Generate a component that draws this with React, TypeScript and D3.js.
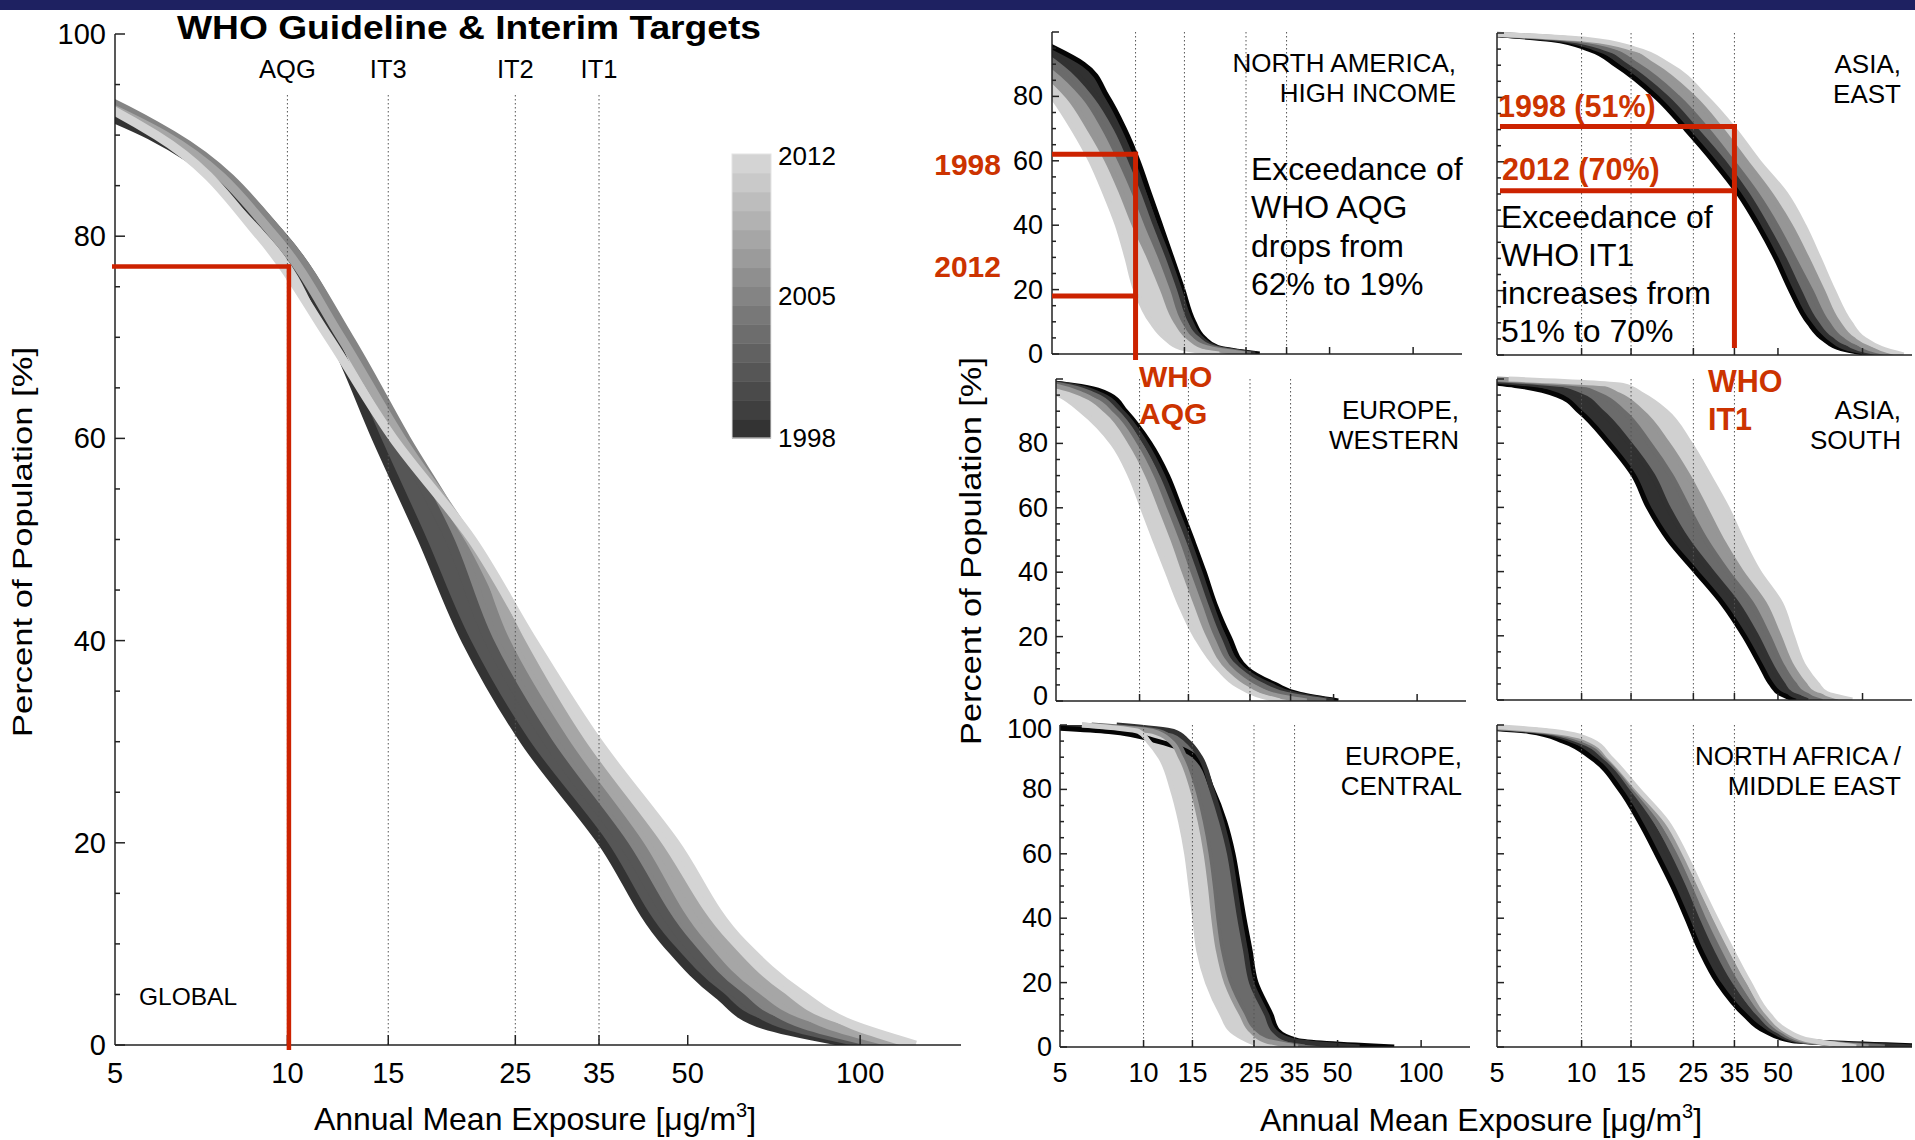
import * as d3 from 'd3'

const W = 1915
const H = 1140
const FONT = '"Liberation Sans", Arial, Helvetica, sans-serif'
const RED = '#cc2200'
const RED_TEXT = '#cc3300'

// exceedance levels (% of population) at which the curves below are read
const LEVELS = [100, 98, 95, 90, 80, 70, 60, 50, 40, 30, 20, 10, 5, 2, 0]
const CURVE_YEARS = [1998, 2001, 2005, 2008, 2012]
const BAR_YEARS = [1998, 1999, 2000, 2001, 2002, 2003, 2004, 2005, 2006, 2007, 2008, 2009, 2010, 2011, 2012]
const BAR_LABELS = [2012, 2005, 1998]
const X_TICKS = [5, 10, 15, 25, 35, 50, 100]
const WHO_VALUES = [10, 15, 25, 35]
const WHO_NAMES = ['AQG', 'IT3', 'IT2', 'IT1']

// exposure (ug/m3) where each year's curve crosses LEVELS, rows follow CURVE_YEARS
const globalCurves = [
  [2, 2.8, 3.6, 5.75, 9.5, 12.0, 14.3, 17.2, 20.5, 26, 35.5, 46, 56.5, 68, 100],
  [2, 3.0, 4.1, 6.2, 9.8, 12.7, 15.6, 19.2, 22.5, 28.5, 38.5, 50, 61, 74, 105],
  [2, 3.0, 4.2, 6.3, 9.8, 12.8, 16.1, 20.5, 24, 30.5, 41, 53, 65, 80, 110],
  [2, 3.0, 4.0, 6.1, 9.5, 12.4, 15.8, 20.8, 25.5, 32.5, 44, 58, 72, 88, 118],
  [2, 2.9, 4.0, 5.9, 8.95, 11.8, 15.3, 21, 26.8, 34.8, 47.5, 62.5, 79, 97, 125],
]
const northAmericaCurves = [
  [3.5, 4.3, 5.1, 6.5, 7.9, 9.1, 10.2, 11.2, 12.3, 13.5, 14.8, 16.2, 17.6, 19.8, 28],
  [3.0, 3.8, 4.6, 5.6, 7.2, 8.5, 9.6, 10.7, 11.8, 13.1, 14.4, 15.8, 17.2, 19.5, 27],
  [2.6, 3.3, 4.0, 4.9, 6.5, 7.7, 8.8, 9.9, 11.0, 12.3, 13.6, 15.0, 16.6, 19.0, 26],
  [2.4, 3.0, 3.6, 4.3, 5.7, 6.8, 7.9, 8.9, 9.9, 11.2, 12.5, 14.0, 15.6, 18.0, 25],
  [2.2, 2.7, 3.3, 4.0, 5.0, 5.95, 6.9, 7.75, 8.6, 9.3, 10.0, 11.4, 12.8, 14.5, 20],
]
const eastAsiaCurves = [
  [4, 7.8, 10.6, 13.3, 18.5, 23.6, 29.6, 36.3, 42.7, 49.2, 55.6, 64.4, 72.7, 84, 110],
  [4, 8.3, 11.4, 14.3, 20.0, 25.5, 32, 38.8, 45.5, 52.5, 59.5, 68.5, 77, 89, 115],
  [4, 8.9, 12.4, 15.8, 22, 28, 34.5, 42, 49.5, 57, 65.5, 75, 84, 97, 122],
  [4, 9.7, 14, 18, 25, 31.5, 38.5, 47, 55.5, 63.5, 72, 82, 92, 106, 130],
  [4, 10.5, 15.5, 20.5, 27.7, 35, 42.7, 53.3, 62, 70, 78.7, 90.3, 101, 117, 140],
]
const westEuropeCurves = [
  [3.5, 5.8, 7.8, 8.9, 10.9, 12.6, 14.0, 15.5, 17.1, 18.7, 21.0, 24.4, 31, 38, 52],
  [3.5, 5.6, 7.3, 8.6, 10.5, 12.1, 13.5, 15.0, 16.5, 18.1, 20.1, 23.5, 29.5, 36.5, 50],
  [3.5, 5.3, 6.9, 8.2, 10.0, 11.5, 12.8, 14.2, 15.6, 17.2, 19.0, 22.5, 27.5, 34, 47],
  [3.5, 4.9, 6.3, 7.6, 9.3, 10.7, 11.9, 13.2, 14.5, 16.0, 17.8, 21.0, 25.0, 30, 40],
  [3.5, 4.3, 5.15, 6.2, 8.0, 9.25, 10.25, 11.35, 12.6, 14.0, 15.95, 19.3, 22.4, 26.4, 32],
]
const southAsiaCurves = [
  [3.5, 5.8, 8.2, 9.8, 12.5, 15.3, 17.3, 20.4, 25.5, 31.8, 37.9, 43.9, 47.3, 51, 58],
  [4, 7.2, 9.8, 11.7, 14.8, 17.9, 20.3, 23.7, 29.0, 35.8, 41.9, 47.9, 52.0, 55.5, 64],
  [4.5, 9.0, 11.6, 14.0, 17.4, 20.8, 23.9, 27.6, 33.0, 40.3, 46.2, 52.3, 57.1, 61.5, 72],
  [5, 10.9, 13.6, 16.3, 20.2, 23.9, 27.5, 31.5, 37.0, 44.8, 50.4, 56.5, 62.0, 67, 82],
  [5.5, 14, 16.5, 19.9, 24.3, 28.4, 32.9, 37.2, 42.7, 51.2, 56.2, 62.4, 68.9, 74.5, 92],
]
const centralEuropeCurves = [
  [3, 7.5, 11.2, 15.4, 17.7, 19.6, 21.0, 22.0, 23.0, 24.2, 25.4, 28.8, 30.5, 36, 80],
  [8, 12.8, 14.4, 16.0, 17.6, 19.1, 20.4, 21.3, 22.2, 23.3, 24.5, 27.8, 29.6, 34.5, 60],
  [6.5, 11.3, 13.0, 14.1, 15.5, 16.5, 17.3, 17.9, 18.4, 19.1, 20.5, 23.3, 25.2, 28.5, 38],
  [6, 10.8, 12.5, 13.6, 15.0, 16.0, 16.8, 17.4, 17.9, 18.6, 19.9, 22.6, 24.5, 27.5, 36],
  [6, 9.6, 10.4, 11.5, 12.7, 13.6, 14.3, 14.8, 15.3, 15.8, 17.0, 19.2, 20.8, 23.8, 27],
]
const middleEastCurves = [
  [3, 6.5, 8.6, 10.8, 13.7, 16.1, 18.5, 21.1, 23.7, 26.5, 30.6, 38.1, 45, 56, 220],
  [3, 7.0, 9.4, 11.8, 14.8, 17.6, 20.3, 23.0, 25.7, 29.0, 33.5, 41.0, 48.0, 58.5, 150],
  [3.5, 7.3, 9.9, 12.1, 15.2, 18.4, 21.4, 24.2, 27.1, 30.8, 35.5, 43.0, 50.0, 60.5, 120],
  [3.5, 7.6, 10.4, 12.4, 15.6, 19.3, 22.5, 25.4, 28.6, 32.6, 37.6, 44.8, 52.0, 63, 105],
  [4, 8.0, 10.9, 12.6, 15.9, 20.1, 23.3, 26.4, 30.0, 34.3, 39.5, 46.5, 53.8, 65.6, 95],
]

const GLOBAL_AQG_2012 = 77
const NA_MARKS = [62, 18]
const EA_MARKS = [71, 51]

type Box = {x0: number; x1: number; y0: number; y1: number}

const globalGray = (yr: number) => d3.interpolateRgb('#333333', '#d4d4d4')((yr - 1998) / 14)
const regionGray = (yr: number) => d3.interpolateRgb('#050505', '#d0d0d0')((yr - 1998) / 14)

function makeScales(b: Box) {
  return {
    x: d3.scaleLog().domain([5, 150]).range([b.x0, b.x1]),
    y: d3.scaleLinear().domain([0, 100]).range([b.y0, b.y1]),
  }
}

function Bands({id, box, curves, gray, width}: {id: string; box: Box; curves: number[][]; gray: (y: number) => string; width: number}) {
  const {x, y} = makeScales(box)
  const line = d3.line<number>().x(d => x(d)).y((_, i) => y(LEVELS[i])).curve(d3.curveMonotoneY)
  return (
    <g>
      <clipPath id={id}>
        <rect x={box.x0} y={box.y1 - 12} width={box.x1 - box.x0} height={box.y0 - box.y1 + 12} />
      </clipPath>
      <g clipPath={`url(#${id})`}>
        {curves.map((c, k) => {
          if (k === 0) return null
          const prev = curves[k - 1]
          const area = d3.area<number>()
            .y((_, i) => y(LEVELS[i]))
            .x0((_, i) => x(prev[i]))
            .x1(d => x(d))
            .curve(d3.curveMonotoneY)
          return <path key={'a' + k} d={area(c) ?? undefined} fill={gray(CURVE_YEARS[k])} />
        })}
        {curves.map((c, k) => (
          <path
            key={'l' + k}
            d={line(c) ?? undefined}
            fill="none"
            stroke={gray(CURVE_YEARS[k])}
            strokeWidth={width}
            strokeLinejoin="round"
          />
        ))}
      </g>
    </g>
  )
}

function Axes({box, major, minor, dotTop}: {box: Box; major: number; minor: number; dotTop: number}) {
  const {x, y} = makeScales(box)
  return (
    <g>
      {WHO_VALUES.map(v => (
        <line key={'d' + v} x1={x(v)} x2={x(v)} y1={dotTop} y2={box.y0}
          stroke="#555" strokeWidth={1} strokeDasharray="1.5,2.5" />
      ))}
      <g stroke="#222" strokeWidth={1.5}>
        <line x1={box.x0} x2={box.x0} y1={box.y1} y2={box.y0} />
        <line x1={box.x0} x2={box.x1} y1={box.y0} y2={box.y0} />
        {d3.range(0, 101, 5).map(v => (
          <line key={'y' + v} x1={box.x0} x2={box.x0 + (v % 20 === 0 ? major : minor)} y1={y(v)} y2={y(v)} />
        ))}
        {X_TICKS.slice(1).map(v => (
          <line key={'x' + v} x1={x(v)} x2={x(v)} y1={box.y0} y2={box.y0 - major} />
        ))}
      </g>
    </g>
  )
}

function TickLabels({box, yVals, xLabels, size, dx, dy, nudge}: {box: Box; yVals: number[]; xLabels: boolean; size: number; dx: number; dy: number; nudge?: (v: number) => number}) {
  const {x, y} = makeScales(box)
  return (
    <g fontSize={size} fill="#000">
      {yVals.map(v => (
        <text key={'y' + v} x={box.x0 - dx} y={y(v) + (nudge ? nudge(v) : 0)} textAnchor="end" dominantBaseline="central">{v}</text>
      ))}
      {xLabels && X_TICKS.map(v => (
        <text key={'x' + v} x={x(v)} y={box.y0 + dy} textAnchor="middle">{v}</text>
      ))}
    </g>
  )
}

function RegionLabel({box, lines, dx}: {box: Box; lines: string[]; dx: number}) {
  return (
    <g fontSize={26} textAnchor="end">
      {lines.map((l, i) => (
        <text key={i} x={box.x1 - dx} y={box.y1 + 40 + i * 30}>{l}</text>
      ))}
    </g>
  )
}

function ExposureLabel({cx, y}: {cx: number; y: number}) {
  return (
    <text x={cx} y={y} fontSize={32} textAnchor="middle">
      Annual Mean Exposure [μg/m<tspan dy={-13} fontSize={20}>3</tspan><tspan dy={13}>]</tspan>
    </text>
  )
}

const globalBox: Box = {x0: 115, x1: 961, y0: 1045, y1: 34}
const naBox: Box = {x0: 1052, x1: 1462, y0: 354, y1: 32}
const eaBox: Box = {x0: 1497, x1: 1912, y0: 355, y1: 33}
const weBox: Box = {x0: 1056, x1: 1466, y0: 701, y1: 379}
const saBox: Box = {x0: 1497, x1: 1912, y0: 700, y1: 379}
const ceBox: Box = {x0: 1060, x1: 1470, y0: 1047, y1: 725}
const meBox: Box = {x0: 1497, x1: 1912, y0: 1047, y1: 725}

export default function App() {
  const g = makeScales(globalBox)
  const na = makeScales(naBox)
  const ea = makeScales(eaBox)
  const barTop = 154
  const barBottom = 438
  const band = (barBottom - barTop) / BAR_YEARS.length

  const regions: [string, Box, number[][]][] = [
    ['na', naBox, northAmericaCurves],
    ['ea', eaBox, eastAsiaCurves],
    ['we', weBox, westEuropeCurves],
    ['sa', saBox, southAsiaCurves],
    ['ce', ceBox, centralEuropeCurves],
    ['me', meBox, middleEastCurves],
  ]

  return (
    <svg width={W} height={H} viewBox={`0 0 ${W} ${H}`}
      style={{position: 'absolute', left: 0, top: 0, background: '#fff'}} fontFamily={FONT}>
      <rect x={0} y={0} width={W} height={H} fill="#fff" />

      {/* global panel */}
      <Bands id="clip-global" box={globalBox} curves={globalCurves} gray={globalGray} width={9} />
      <Axes box={globalBox} major={10} minor={5} dotTop={95} />
      <TickLabels box={globalBox} yVals={[0, 20, 40, 60, 80, 100]} xLabels size={29} dx={9} dy={38} />
      <text x={177} y={38.5} fontSize={33} fontWeight="bold" textLength={584} lengthAdjust="spacingAndGlyphs">
        WHO Guideline &amp; Interim Targets
      </text>
      {WHO_VALUES.map((v, i) => (
        <text key={v} x={g.x(v)} y={77.7} fontSize={25.5} textAnchor="middle">{WHO_NAMES[i]}</text>
      ))}
      <text x={139} y={1005} fontSize={24.5}>GLOBAL</text>
      <text transform="translate(32,542) rotate(-90)" fontSize={28} textAnchor="middle"
        textLength={390} lengthAdjust="spacingAndGlyphs">Percent of Population [%]</text>
      <ExposureLabel cx={535} y={1130} />

      <g stroke={RED} strokeWidth={4.5} fill="none">
        <line x1={globalBox.x0 - 3} x2={g.x(10) + 3} y1={g.y(GLOBAL_AQG_2012)} y2={g.y(GLOBAL_AQG_2012)} />
        <line x1={g.x(10) + 1.5} x2={g.x(10) + 1.5} y1={g.y(GLOBAL_AQG_2012) - 2} y2={globalBox.y0 + 5} />
      </g>

      {/* colour bar */}
      <g>
        {BAR_YEARS.map((yr, i) => (
          <rect key={yr} x={732} y={barBottom - (i + 1) * band} width={39} height={band + 0.5} fill={globalGray(yr)} />
        ))}
        <rect x={732} y={barTop} width={39} height={barBottom - barTop} fill="none" stroke="#e4e4e4" strokeWidth={1} />
        {BAR_LABELS.map(yr => {
          const i = yr - 1998
          const cy = yr === 2012 ? 156 : yr === 1998 ? 438 : barBottom - (i + 0.5) * band
          return <text key={yr} x={778} y={cy} fontSize={26} dominantBaseline="central">{yr}</text>
        })}
      </g>

      {/* regional panels */}
      {regions.map(([id, box, curves]) => (
        <Bands key={id} id={'clip-' + id} box={box} curves={curves} gray={regionGray} width={5} />
      ))}
      {regions.map(([id, box]) => (
        <Axes key={'ax' + id} box={box} major={7} minor={4} dotTop={box.y1} />
      ))}
      <TickLabels box={naBox} yVals={[0, 20, 40, 60, 80]} xLabels={false} size={27} dx={9} dy={0} />
      <TickLabels box={weBox} yVals={[0, 20, 40, 60, 80]} xLabels={false} size={27} dx={8} dy={0}
        nudge={v => (v === 0 ? -5 : 0)} />
      <TickLabels box={ceBox} yVals={[0, 20, 40, 60, 80, 100]} xLabels size={27} dx={8} dy={35}
        nudge={v => (v === 100 ? 4 : 0)} />
      <TickLabels box={meBox} yVals={[]} xLabels size={27} dx={8} dy={35} />

      <RegionLabel box={naBox} lines={['NORTH AMERICA,', 'HIGH INCOME']} dx={6} />
      <RegionLabel box={eaBox} lines={['ASIA,', 'EAST']} dx={11} />
      <RegionLabel box={weBox} lines={['EUROPE,', 'WESTERN']} dx={7} />
      <RegionLabel box={saBox} lines={['ASIA,', 'SOUTH']} dx={11} />
      <RegionLabel box={ceBox} lines={['EUROPE,', 'CENTRAL']} dx={8} />
      <RegionLabel box={meBox} lines={['NORTH AFRICA /', 'MIDDLE EAST']} dx={11} />

      <text transform="translate(981,551) rotate(-90)" fontSize={30} textAnchor="middle"
        textLength={388} lengthAdjust="spacingAndGlyphs">Percent of Population [%]</text>
      <ExposureLabel cx={1481} y={1131} />

      {/* North America annotation */}
      <g stroke={RED} strokeWidth={5} fill="none">
        {NA_MARKS.map(v => (
          <line key={v} x1={naBox.x0} x2={na.x(10) + 2.5} y1={na.y(v)} y2={na.y(v)} />
        ))}
        <line x1={na.x(10)} x2={na.x(10)} y1={na.y(NA_MARKS[0]) - 2.5} y2={naBox.y0 + 6} />
      </g>
      <g fontSize={30} fontWeight="bold" fill={RED_TEXT}>
        <text x={1001} y={175} textAnchor="end">1998</text>
        <text x={1001} y={277} textAnchor="end">2012</text>
        <text x={1139} y={387}>WHO</text>
        <text x={1139} y={423.5}>AQG</text>
      </g>
      <g fontSize={32}>
        {['Exceedance of', 'WHO AQG', 'drops from', '62% to 19%'].map((t, i) => (
          <text key={t} x={1251} y={180 + i * 38.3}>{t}</text>
        ))}
      </g>

      {/* East Asia annotation */}
      <g stroke={RED} strokeWidth={5} fill="none">
        {EA_MARKS.map(v => (
          <line key={v} x1={eaBox.x0 + 3} x2={ea.x(35) + 2.5} y1={ea.y(v)} y2={ea.y(v)} />
        ))}
        <line x1={ea.x(35)} x2={ea.x(35)} y1={ea.y(EA_MARKS[0]) - 2.5} y2={348} />
      </g>
      <g fontSize={30.5} fontWeight="bold" fill={RED_TEXT}>
        <text x={1498} y={116.7}>1998 (51%)</text>
        <text x={1502} y={180}>2012 (70%)</text>
        <text x={1708} y={392}>WHO</text>
        <text x={1708} y={430}>IT1</text>
      </g>
      <g fontSize={32}>
        {['Exceedance of', 'WHO IT1', 'increases from', '51% to 70%'].map((t, i) => (
          <text key={t} x={1501} y={228.3 + i * 37.8}>{t}</text>
        ))}
      </g>

      {/* slide header bar */}
      <rect x={0} y={0} width={W} height={10} fill="#1e2161" />
    </svg>
  )
}
